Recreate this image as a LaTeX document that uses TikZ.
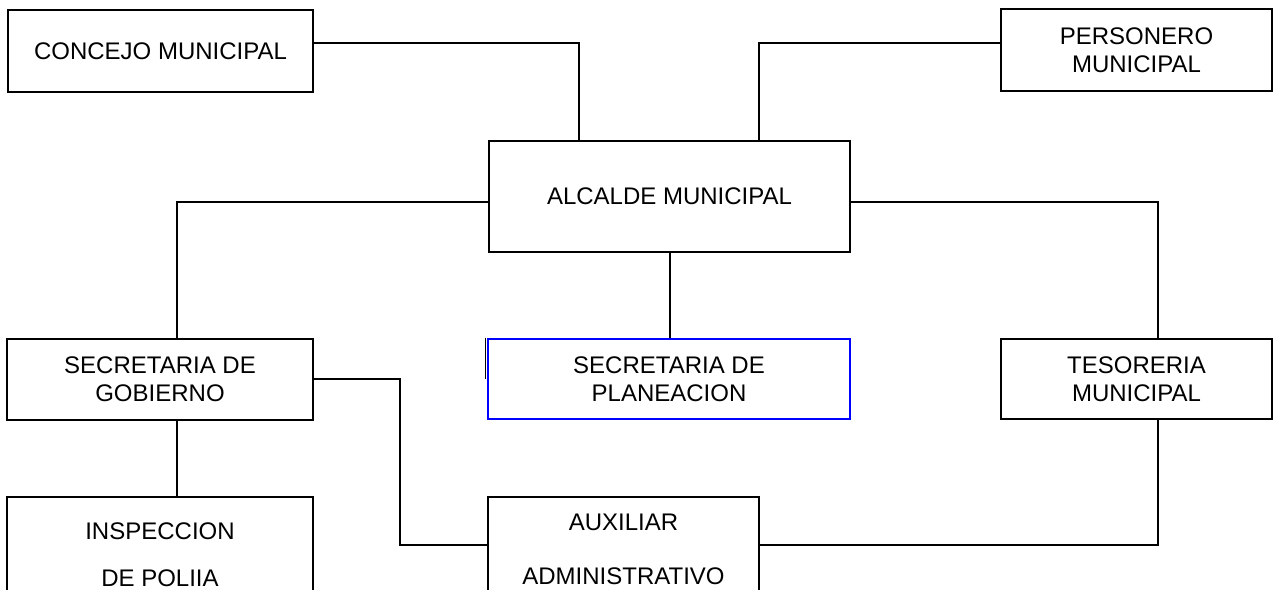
\documentclass[tikz,border=0pt]{standalone}
\usepackage{fontspec}
\setmainfont{Liberation Sans}
\begin{document}
\begin{tikzpicture}[x=1pt,y=-1pt,
  box/.style={draw=black, line width=2.8pt, rectangle, align=center, inner sep=0pt,
    font=\fontsize{24}{27.6}\selectfont},
  conn/.style={draw=black, line width=2pt}]
\useasboundingbox (0,0) rectangle (1274,589);
\clip (0,0) rectangle (1274,589);
\fill[white] (0,0) rectangle (1274,589);
% boxes
\node[box, minimum width=305pt, minimum height=82pt] (concejo) at (160.5,51) {CONCEJO MUNICIPAL};
\node[box, minimum width=271pt, minimum height=82pt] (personero) at (1136.5,50) {PERSONERO\\MUNICIPAL};
\node[box, minimum width=361pt, minimum height=111pt] (alcalde) at (669.5,196.5) {ALCALDE MUNICIPAL};
\node[box, draw=blue, minimum width=362pt, minimum height=80pt] (planeacion) at (669,379) {SECRETARIA DE\\PLANEACION};
\node[box, minimum width=306pt, minimum height=81pt] (gobierno) at (160,379.5) {SECRETARIA DE\\GOBIERNO};
\node[box, minimum width=271pt, minimum height=80pt] (tesoreria) at (1136.5,379) {TESORERIA\\MUNICIPAL};
\node[box, minimum width=306pt, minimum height=116pt, font=\fontsize{24}{47}\selectfont] (inspeccion) at (160,555) {INSPECCION\\DE POLIIA};
\node[box, minimum width=271pt, minimum height=105pt, font=\fontsize{24}{54}\selectfont] (auxiliar) at (623.5,549.5) {AUXILIAR\\ADMINISTRATIVO};
% helper coordinates
\coordinate (c1) at (579,43);
\coordinate (p1) at (759,43);
\coordinate (a1) at (177,202);
\coordinate (a2) at (1158,202);
\coordinate (g1) at (400,379);
\coordinate (g2) at (400,545);
% connectors
\draw[conn] (concejo.east |- c1) -| (alcalde.north -| c1);
\draw[conn] (personero.west |- p1) -| (alcalde.north -| p1);
\draw[conn] (alcalde.west |- a1) -| (gobierno.north -| a1);
\draw[conn] (alcalde.east |- a2) -| (tesoreria.north -| a2);
\draw[conn] (alcalde.south) -- (planeacion.north -| alcalde.south);
\draw[conn] (gobierno.south -| a1) -- (inspeccion.north -| a1);
\draw[conn] (gobierno.east |- g1) -- (g1) |- (auxiliar.west |- g2);
\draw[conn] (tesoreria.south -| a2) |- (auxiliar.east |- g2);
\draw[black, line width=1.2pt] ([xshift=-1.5pt]planeacion.north west) -- ([xshift=-1.5pt]planeacion.west);
\end{tikzpicture}
\end{document}
